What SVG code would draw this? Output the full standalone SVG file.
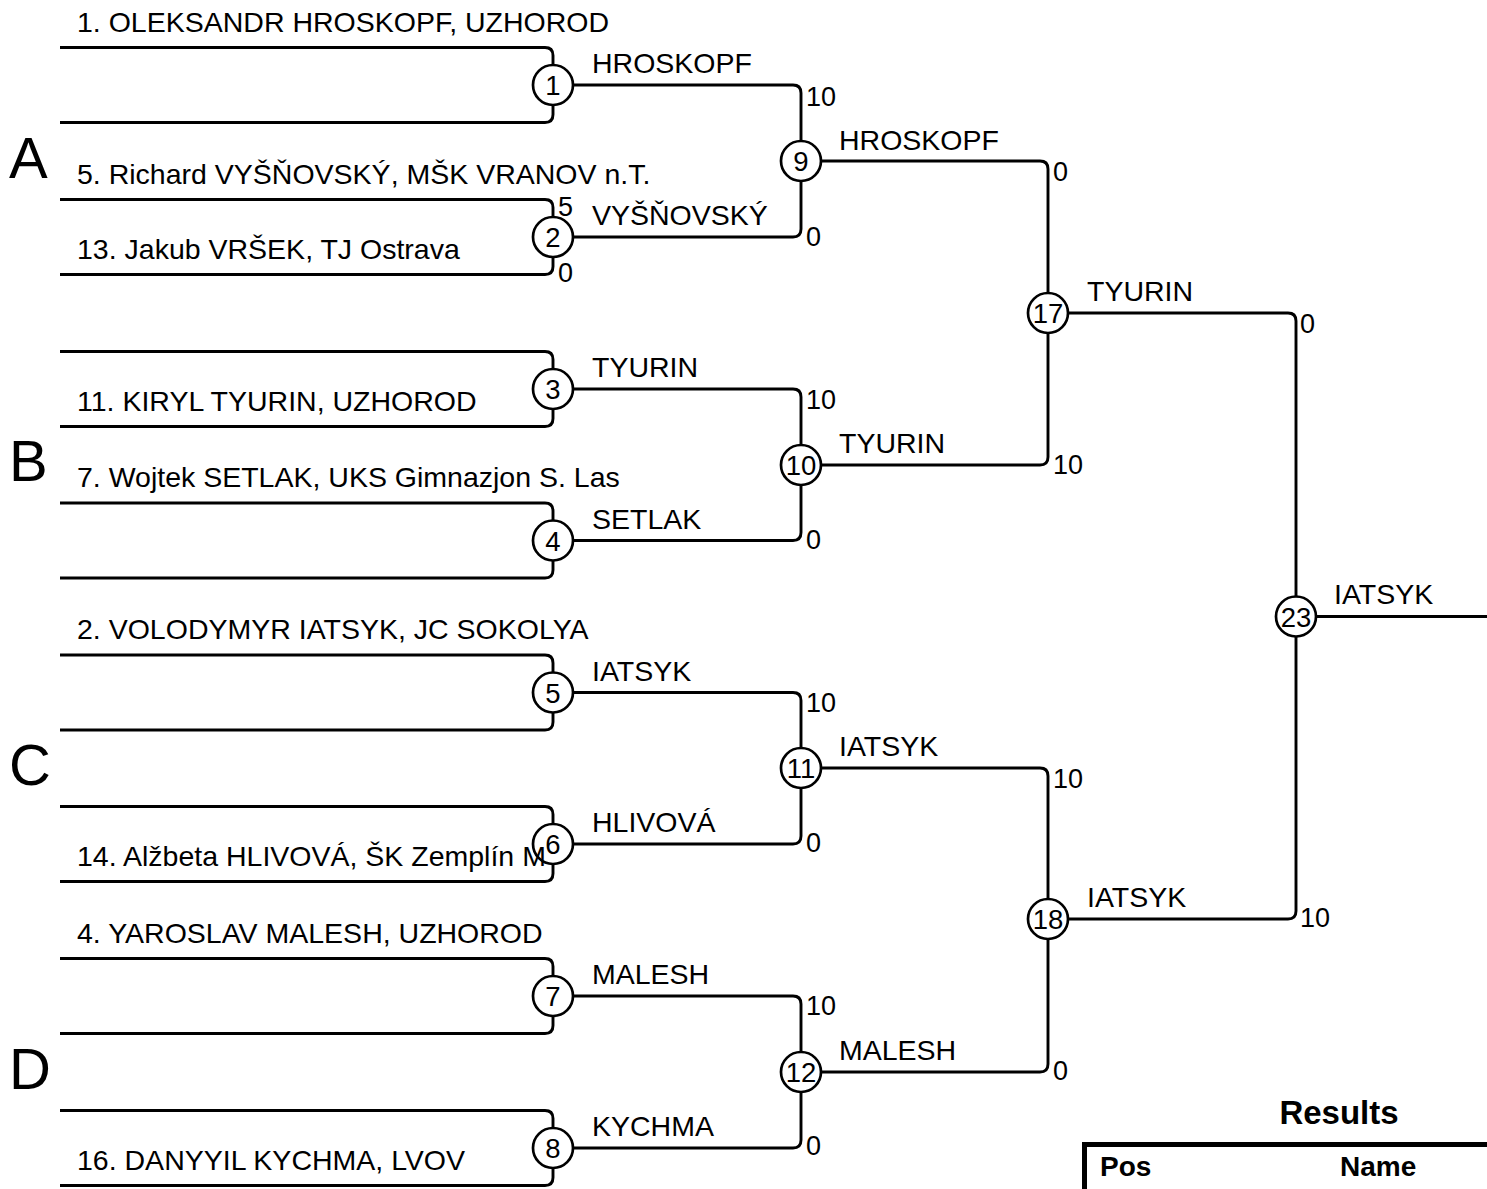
<svg xmlns="http://www.w3.org/2000/svg" width="1487" height="1189" viewBox="0 0 1487 1189">
<style>
text{font-family:"Liberation Sans",Arial,sans-serif;fill:#000}
.nm{font-size:28.5px}
.win{font-size:28.5px}
.sc{font-size:27px}
.num{font-size:27.5px;text-anchor:middle}
.grp{font-size:58px}
.bold{font-weight:bold;font-size:28px}
.ttl{font-weight:bold;font-size:33px;text-anchor:middle}
.ln{fill:none;stroke:#000;stroke-width:2.9}
.c{fill:#fff;stroke:#000;stroke-width:2.7}
</style>
<rect width="1487" height="1189" fill="#fff"/>
<g id="connectors" class="ln">
<path d="M60,47.5H545Q553,47.5 553,55.5V85M60,122.5H545Q553,122.5 553,114.5V85"/>
<path d="M60,199.5H545Q553,199.5 553,207.5V237M60,274.5H545Q553,274.5 553,266.5V237"/>
<path d="M60,351.5H545Q553,351.5 553,359.5V389M60,426.5H545Q553,426.5 553,418.5V389"/>
<path d="M60,503H545Q553,503 553,511V540.5M60,578H545Q553,578 553,570V540.5"/>
<path d="M60,655H545Q553,655 553,663V692.5M60,730H545Q553,730 553,722V692.5"/>
<path d="M60,806.5H545Q553,806.5 553,814.5V844M60,881.5H545Q553,881.5 553,873.5V844"/>
<path d="M60,958.5H545Q553,958.5 553,966.5V996M60,1033.5H545Q553,1033.5 553,1025.5V996"/>
<path d="M60,1110.5H545Q553,1110.5 553,1118.5V1148M60,1185.5H545Q553,1185.5 553,1177.5V1148"/>
<path d="M553,85H793Q801,85 801,93V161M553,237H793Q801,237 801,229V161"/>
<path d="M553,389H793Q801,389 801,397V465M553,540.5H793Q801,540.5 801,532.5V465"/>
<path d="M553,692.5H793Q801,692.5 801,700.5V768M553,844H793Q801,844 801,836V768"/>
<path d="M553,996H793Q801,996 801,1004V1072M553,1148H793Q801,1148 801,1140V1072"/>
<path d="M801,161H1040Q1048,161 1048,169V313M801,465H1040Q1048,465 1048,457V313"/>
<path d="M801,768H1040Q1048,768 1048,776V919M801,1072H1040Q1048,1072 1048,1064V919"/>
<path d="M1048,313H1288Q1296,313 1296,321V616.5M1048,919H1288Q1296,919 1296,911V616.5"/>
<path d="M1296,616.5H1487"/>
</g>
<g id="m1"><circle class="c" cx="553" cy="85" r="20"/><text class="num" x="553" y="95">1</text><text class="win" x="592" y="73">HROSKOPF</text></g>
<g id="m2"><circle class="c" cx="553" cy="237" r="20"/><text class="num" x="553" y="247">2</text><text class="win" x="592" y="225">VYŠŇOVSKÝ</text><text class="sc" x="558" y="216">5</text><text class="sc" x="558" y="282">0</text></g>
<g id="m3"><circle class="c" cx="553" cy="389" r="20"/><text class="num" x="553" y="399">3</text><text class="win" x="592" y="377">TYURIN</text></g>
<g id="m4"><circle class="c" cx="553" cy="540.5" r="20"/><text class="num" x="553" y="550.5">4</text><text class="win" x="592" y="528.5">SETLAK</text></g>
<g id="m5"><circle class="c" cx="553" cy="692.5" r="20"/><text class="num" x="553" y="702.5">5</text><text class="win" x="592" y="680.5">IATSYK</text></g>
<g id="m6"><circle class="c" cx="553" cy="844" r="20"/><text class="num" x="553" y="854">6</text><text class="win" x="592" y="832">HLIVOVÁ</text></g>
<g id="m7"><circle class="c" cx="553" cy="996" r="20"/><text class="num" x="553" y="1006">7</text><text class="win" x="592" y="984">MALESH</text></g>
<g id="m8"><circle class="c" cx="553" cy="1148" r="20"/><text class="num" x="553" y="1158">8</text><text class="win" x="592" y="1136">KYCHMA</text></g>
<g id="m9"><circle class="c" cx="801" cy="161" r="20"/><text class="num" x="801" y="171">9</text><text class="win" x="839" y="150">HROSKOPF</text><text class="sc" x="806" y="106">10</text><text class="sc" x="806" y="246">0</text></g>
<g id="m10"><circle class="c" cx="801" cy="465" r="20"/><text class="num" x="801" y="475">10</text><text class="win" x="839" y="453">TYURIN</text><text class="sc" x="806" y="409">10</text><text class="sc" x="806" y="549">0</text></g>
<g id="m11"><circle class="c" cx="801" cy="768" r="20"/><text class="num" x="801" y="778">11</text><text class="win" x="839" y="756">IATSYK</text><text class="sc" x="806" y="712">10</text><text class="sc" x="806" y="852">0</text></g>
<g id="m12"><circle class="c" cx="801" cy="1072" r="20"/><text class="num" x="801" y="1082">12</text><text class="win" x="839" y="1060">MALESH</text><text class="sc" x="806" y="1015">10</text><text class="sc" x="806" y="1155">0</text></g>
<g id="m17"><circle class="c" cx="1048" cy="313" r="20"/><text class="num" x="1048" y="323">17</text><text class="win" x="1087" y="301">TYURIN</text><text class="sc" x="1053" y="181">0</text><text class="sc" x="1053" y="474">10</text></g>
<g id="m18"><circle class="c" cx="1048" cy="919" r="20"/><text class="num" x="1048" y="929">18</text><text class="win" x="1087" y="907">IATSYK</text><text class="sc" x="1053" y="787.5">10</text><text class="sc" x="1053" y="1080">0</text></g>
<g id="m23"><circle class="c" cx="1296" cy="616.5" r="20"/><text class="num" x="1296" y="626.5">23</text><text class="win" x="1334" y="604">IATSYK</text><text class="sc" x="1300" y="333">0</text><text class="sc" x="1300" y="927">10</text></g>
<g id="players">
<text class="nm" x="77" y="31.5">1. OLEKSANDR HROSKOPF, UZHOROD</text>
<text class="nm" x="77" y="183.5">5. Richard VYŠŇOVSKÝ, MŠK VRANOV n.T.</text>
<text class="nm" x="77" y="258.5">13. Jakub VRŠEK, TJ Ostrava</text>
<text class="nm" x="77" y="410.5">11. KIRYL TYURIN, UZHOROD</text>
<text class="nm" x="77" y="487">7. Wojtek SETLAK, UKS Gimnazjon S. Las</text>
<text class="nm" x="77" y="639">2. VOLODYMYR IATSYK, JC SOKOLYA</text>
<text class="nm" x="77" y="865.5">14. Alžbeta HLIVOVÁ, ŠK Zemplín M</text>
<text class="nm" x="77" y="942.5">4. YAROSLAV MALESH, UZHOROD</text>
<text class="nm" x="77" y="1169.5">16. DANYYIL KYCHMA, LVOV</text>
</g>
<g id="groups">
<text class="grp" x="9" y="178">A</text>
<text class="grp" x="9" y="481">B</text>
<text class="grp" x="9" y="785">C</text>
<text class="grp" x="9" y="1089">D</text>
</g>
<g id="results">
<text class="ttl" x="1339" y="1124">Results</text>
<path d="M1084.5,1189V1144.5H1487" fill="none" stroke="#000" stroke-width="5"/>
<text class="bold" x="1100" y="1176">Pos</text>
<text class="bold" x="1340" y="1176">Name</text>
</g>
</svg>
